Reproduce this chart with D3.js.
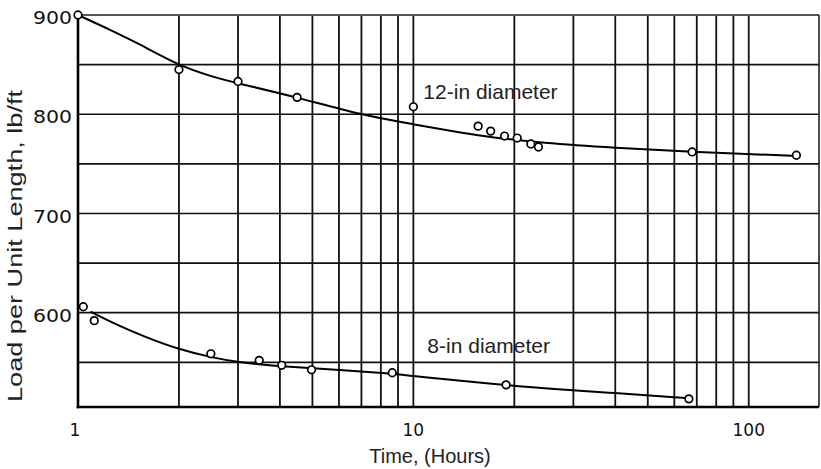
<!DOCTYPE html>
<html><head><meta charset="utf-8">
<script src="https://cdn.jsdelivr.net/npm/d3@7"></script>
<style>body{margin:0;background:#fff}</style></head>
<body><svg id="c" width="821" height="469"></svg>
<script>
// ---- data ----
const xTickLabels = [1, 10, 100];
const yTickLabels = [600, 700, 800, 900];
const xGridValues = [1,2,3,4,5,6,7,8,9,10,20,30,40,50,60,70,80,90,100];
const yGridValues = [550,600,650,700,750,800,850,900];

const pts12X = [1, 2, 3, 4.5, 10, 15.6, 17, 18.7, 20.4, 22.4, 23.6, 67.8, 138.7];
const pts12Y = [900, 845, 833, 817, 807.5, 788, 783, 778, 776, 770, 767, 762, 758.7];
const fit12X = [1, 1.25, 1.5, 2, 2.5, 3, 4.4, 7, 10, 14, 17, 24, 40, 68, 140];
const fit12Y = [900, 885, 872, 849, 838, 831, 818, 799, 790, 781, 777, 771, 766, 762, 758];

const pts8X = [1.037, 1.118, 2.49, 3.47, 4.05, 4.97, 8.65, 18.9, 66.3];
const pts8Y = [606, 592, 558.6, 552, 547, 542.5, 539.5, 527.3, 513.2];
const fit8X = [1.09, 1.3, 1.6, 2, 2.5, 3, 3.8, 5.3, 8.5, 10, 19, 24, 40, 65];
const fit8Y = [601, 588, 575, 563, 555, 550, 546.5, 543.5, 539, 536, 527, 524, 519, 514];

const seriesLabels = ["12-in diameter", "8-in diameter"];
const xTitle = "Time, (Hours)";
const yTitle = "Load per Unit Length, lb/ft";

// ---- layout ----
const L = 78, R = 819, T = 15, B = 407;
const svg = d3.select("#c");
const x = d3.scaleLog().domain([1, 162]).range([L, R]);
const y = d3.scaleLinear().domain([505, 900]).range([B, T]);

const g = svg.append("g");
// grid
g.selectAll("line.vg").data(xGridValues).join("line")
  .attr("x1", d => x(d)).attr("x2", d => x(d)).attr("y1", T).attr("y2", B)
  .attr("stroke", "#111").attr("stroke-width", 1.8);
g.selectAll("line.hg").data(yGridValues).join("line")
  .attr("x1", L).attr("x2", R).attr("y1", d => y(d)).attr("y2", d => y(d))
  .attr("stroke", "#111").attr("stroke-width", 1.7);
// frame
g.append("line").attr("x1", L).attr("x2", R).attr("y1", T).attr("y2", T).attr("stroke", "#555").attr("stroke-width", 2.2);
g.append("line").attr("x1", R).attr("x2", R).attr("y1", T).attr("y2", B).attr("stroke", "#222").attr("stroke-width", 1.6);
g.append("line").attr("x1", L).attr("x2", L).attr("y1", T - 1).attr("y2", B + 1.3).attr("stroke", "#000").attr("stroke-width", 2.6);
g.append("line").attr("x1", L - 1.3).attr("x2", R).attr("y1", B).attr("y2", B).attr("stroke", "#000").attr("stroke-width", 2.6);

// curves
const line = d3.line().x(d => x(d[0])).y(d => y(d[1])).curve(d3.curveBasis);
const fit12 = fit12X.map((v, i) => [v, fit12Y[i]]);
const fit8 = fit8X.map((v, i) => [v, fit8Y[i]]);
g.append("path").attr("d", line(fit12)).attr("fill", "none").attr("stroke", "#000").attr("stroke-width", 2);
g.append("path").attr("d", line(fit8)).attr("fill", "none").attr("stroke", "#000").attr("stroke-width", 2);

// points
const pts12 = pts12X.map((v, i) => [v, pts12Y[i]]);
const pts8 = pts8X.map((v, i) => [v, pts8Y[i]]);
g.selectAll("circle.p").data(pts12.concat(pts8)).join("circle")
  .attr("cx", d => x(d[0])).attr("cy", d => y(d[1])).attr("r", 3.8)
  .attr("fill", "#fff").attr("stroke", "#000").attr("stroke-width", 1.7);

// axis tick labels
const tickFont = "'DejaVu Sans', sans-serif";
g.selectAll("text.yt").data(yTickLabels).join("text")
  .attr("x", 72).attr("y", d => y(d) + 3).attr("dy", "0.36em")
  .attr("text-anchor", "end").attr("font-family", tickFont).attr("font-size", 17)
  .attr("textLength", 39).attr("lengthAdjust", "spacingAndGlyphs")
  .attr("fill", "#111").text(d => d);
g.selectAll("text.xt").data(xTickLabels).join("text")
  .attr("x", d => x(d) - (d === 1 ? 3 : 0)).attr("y", 436)
  .attr("text-anchor", "middle").attr("font-family", tickFont).attr("font-size", 17)
  .attr("fill", "#111").text(d => d);

// series labels
const labFont = "'Liberation Sans', Arial, sans-serif";
g.append("text").attr("x", x(10) + 10).attr("y", 99).attr("font-family", labFont).attr("font-size", 21)
  .attr("fill", "#222").text(seriesLabels[0]);
g.append("text").attr("x", x(10) + 14).attr("y", 353).attr("font-family", labFont).attr("font-size", 21)
  .attr("fill", "#222").text(seriesLabels[1]);

// axis titles
g.append("text").attr("x", 430).attr("y", 463).attr("text-anchor", "middle")
  .attr("font-family", labFont).attr("font-size", 20).attr("fill", "#222").text(xTitle);
g.append("text").attr("transform", "translate(22,246) rotate(-90)").attr("text-anchor", "middle")
  .attr("font-family", labFont).attr("font-size", 20)
  .attr("textLength", 312).attr("lengthAdjust", "spacingAndGlyphs")
  .attr("fill", "#222").text(yTitle);
</script></body></html>
